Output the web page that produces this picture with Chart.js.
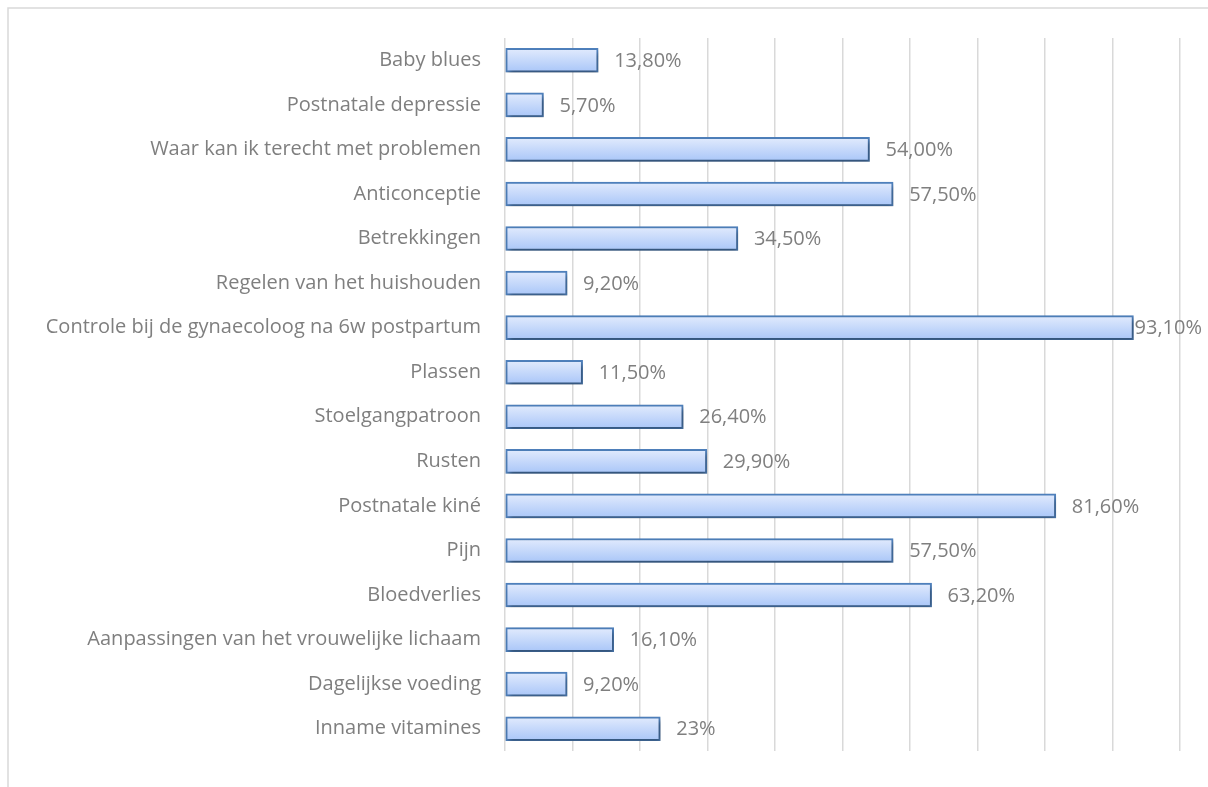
<!DOCTYPE html>
<html>
<head>
<meta charset="utf-8">
<script src="https://cdn.jsdelivr.net/npm/chart.js@4/dist/chart.umd.min.js"></script>
<style>
  html, body { margin: 0; padding: 0; background: #fff; }
  #wrap { position: absolute; left: 0; top: 0; width: 1208px; height: 787px; }
</style>
</head>
<body>
<div id="wrap"><canvas id="chart"></canvas></div>
<script>
var categories = [
    'Baby blues',
    'Postnatale depressie',
    'Waar kan ik terecht met problemen',
    'Anticonceptie',
    'Betrekkingen',
    'Regelen van het huishouden',
    'Controle bij de gynaecoloog na 6w postpartum',
    'Plassen',
    'Stoelgangpatroon',
    'Rusten',
    'Postnatale kiné',
    'Pijn',
    'Bloedverlies',
    'Aanpassingen van het vrouwelijke lichaam',
    'Dagelijkse voeding',
    'Inname vitamines'
];
var percentages = [13.8, 5.7, 54.0, 57.5, 34.5, 9.2, 93.1, 11.5, 26.4, 29.9, 81.6, 57.5, 63.2, 16.1, 9.2, 23];
var valueLabels = ['13,80%', '5,70%', '54,00%', '57,50%', '34,50%', '9,20%', '93,10%', '11,50%',
    '26,40%', '29,90%', '81,60%', '57,50%', '63,20%', '16,10%', '9,20%', '23%'];

var fontSize = 20;
var labelFont = fontSize + 'px "Open Sans", sans-serif';
var textColor = '#7f7f7f';
var barThick = 24;

// frame lines top and left, like the original sheet
var framePlugin = {
    id: 'frame',
    beforeDraw: function (chart) {
        var ctx = chart.ctx;
        ctx.save();
        ctx.strokeStyle = '#d9d9d9';
        ctx.lineWidth = 1.5;
        ctx.beginPath();
        ctx.moveTo(8, chart.height);
        ctx.lineTo(8, 8);
        ctx.lineTo(chart.width, 8);
        ctx.stroke();
        ctx.restore();
    }
};

// gradient fill per bar + a bit of shadow under the bars
var barStylePlugin = {
    id: 'barStyle',
    beforeDatasetsDraw: function (chart) {
        var ctx = chart.ctx;
        chart.getDatasetMeta(0).data.forEach(function (bar) {
            var h = bar.height || barThick;
            var g = ctx.createLinearGradient(0, bar.y - h / 2, 0, bar.y + h / 2);
            g.addColorStop(0, '#e2ebfd');
            g.addColorStop(1, '#a9c6f8');
            bar.options = Object.assign({}, bar.options, { backgroundColor: g });
        });
        ctx.save();
        ctx.shadowColor = 'rgba(0,0,0,0.4)';
        ctx.shadowBlur = 5;
        ctx.shadowOffsetX = 2;
        ctx.shadowOffsetY = 3;
    },
    afterDatasetsDraw: function (chart) {
        chart.ctx.restore();
    }
};

// value labels next to the bars
var valuePlugin = {
    id: 'values',
    afterDatasetsDraw: function (chart) {
        var ctx = chart.ctx;
        var meta = chart.getDatasetMeta(0);
        ctx.save();
        ctx.font = labelFont;
        ctx.fillStyle = textColor;
        ctx.textBaseline = 'middle';
        meta.data.forEach(function (bar, i) {
            var txt = valueLabels[i];
            var w = ctx.measureText(txt).width;
            var x = bar.x + 16;
            if (x + w > chart.width - 6) x = chart.width - 6 - w;
            ctx.fillText(txt, x, bar.y + 1);
        });
        ctx.restore();
    }
};

new Chart(document.getElementById('chart').getContext('2d'), {
    type: 'bar',
    data: {
        labels: categories,
        datasets: [{
            data: percentages,
            backgroundColor: '#c9dbf8',
            borderColor: '#4f81bd',
            borderWidth: 2,
            borderSkipped: false,
            barThickness: barThick
        }]
    },
    options: {
        indexAxis: 'y',
        responsive: true,
        maintainAspectRatio: false,
        animation: false,
        layout: { padding: { top: 38, right: 28, bottom: 24, left: 0 } },
        plugins: {
            legend: { display: false },
            tooltip: { enabled: false }
        },
        scales: {
            x: {
                min: 0,
                max: 100,
                ticks: { display: false, stepSize: 10 },
                grid: { color: '#d9d9d9', lineWidth: 1.5, drawTicks: false },
                border: { display: false },
                afterFit: function (scale) { scale.height = 0; }
            },
            y: {
                ticks: { color: textColor, font: { family: '"Open Sans", sans-serif', size: fontSize }, padding: 24 },
                grid: { display: false, drawTicks: false },
                border: { display: false },
                afterFit: function (scale) { scale.width = 505; }
            }
        }
    },
    plugins: [framePlugin, barStylePlugin, valuePlugin]
});
</script>
</body>
</html>
